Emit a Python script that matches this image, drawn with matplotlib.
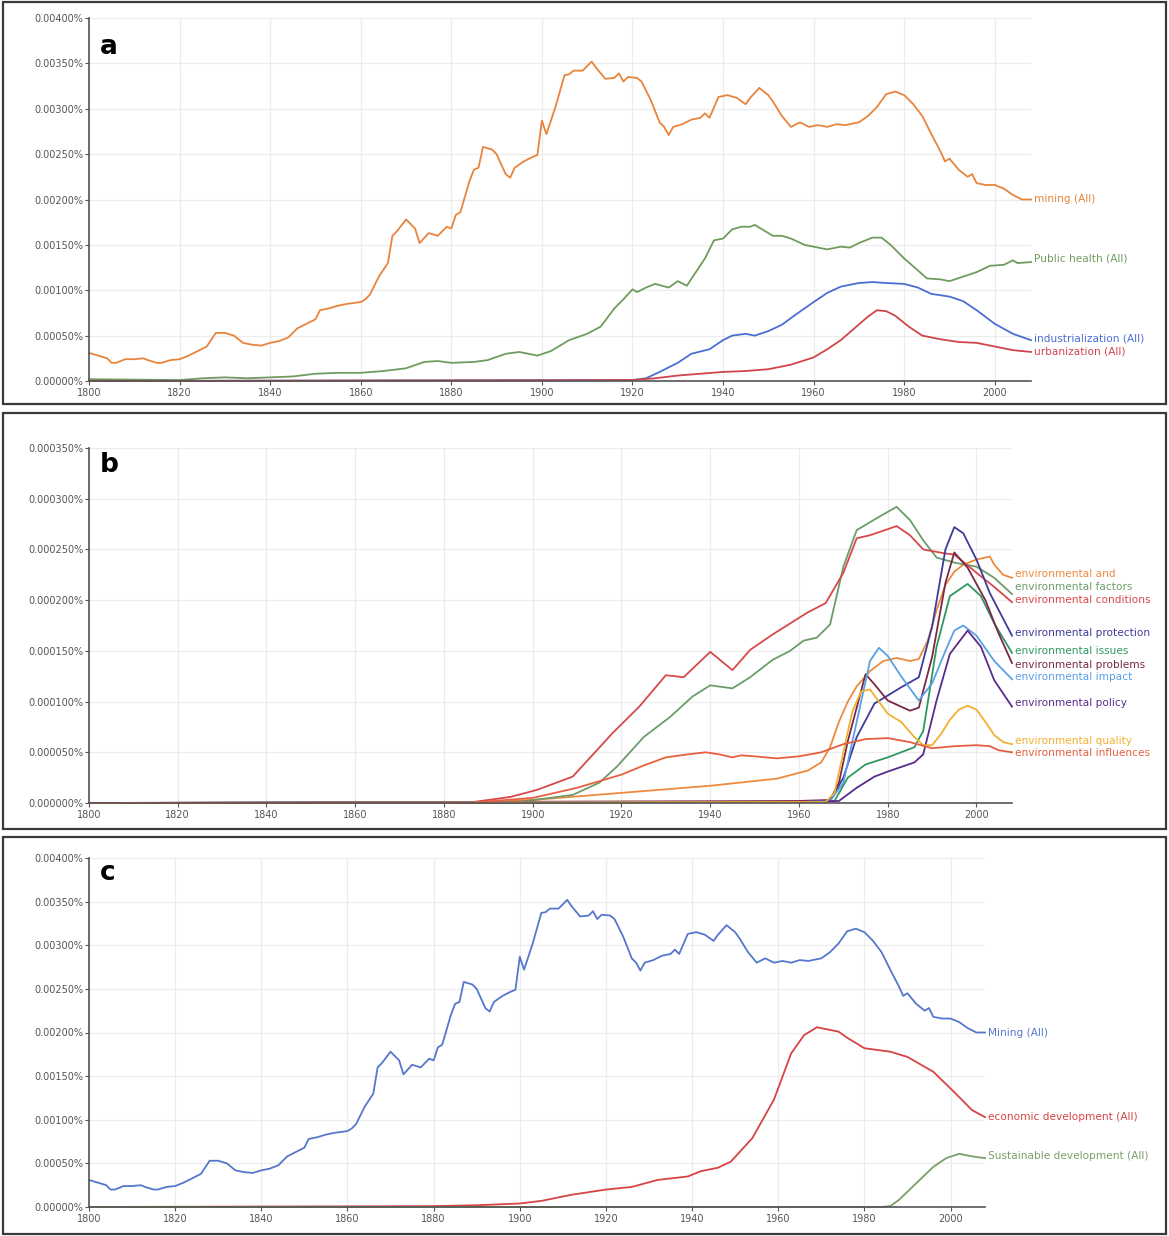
import matplotlib
matplotlib.use("Agg")
import matplotlib.pyplot as plt
import numpy as np
from matplotlib.patches import Rectangle
from matplotlib.ticker import FuncFormatter

# ---- data (values are in %) ----
mining_years = [1800, 1802, 1804, 1805, 1806, 1808, 1810, 1812, 1813, 1815, 1816, 1818, 1820, 1822, 1824, 1826,
                1828, 1830, 1832, 1834, 1836, 1838, 1840, 1842, 1844, 1846, 1848, 1850, 1851, 1853, 1855, 1857,
                1860, 1861, 1862, 1864, 1866, 1867, 1868, 1870, 1872, 1873, 1875, 1877, 1879, 1880, 1881, 1882,
                1884, 1885, 1886, 1887, 1889, 1890, 1892, 1893, 1894, 1896, 1898, 1899, 1900, 1901, 1903, 1905,
                1906, 1907, 1909, 1911, 1912, 1914, 1916, 1917, 1918, 1919, 1921, 1922, 1924, 1926, 1927, 1928,
                1929, 1931, 1933, 1935, 1936, 1937, 1939, 1941, 1943, 1945, 1946, 1948, 1950, 1951, 1953, 1955,
                1957, 1959, 1961, 1963, 1965, 1967, 1970, 1972, 1974, 1976, 1978, 1980, 1982, 1984, 1986, 1988,
                1989, 1990, 1992, 1994, 1995, 1996, 1998, 2000, 2002, 2004, 2006, 2008]
mining_vals = [0.00031, 0.00028, 0.00025, 0.00020, 0.00020, 0.00024, 0.00024, 0.00025, 0.00023, 0.00020, 0.00020,
               0.00023, 0.00024, 0.00028, 0.00033, 0.00038, 0.00053, 0.00053, 0.00050, 0.00042, 0.00040, 0.00039,
               0.00042, 0.00044, 0.00048, 0.00058, 0.00063, 0.00068, 0.00078, 0.00080, 0.00083, 0.00085, 0.00087,
               0.00090, 0.00095, 0.00115, 0.00130, 0.00160, 0.00165, 0.00178, 0.00168, 0.00152, 0.00163, 0.00160,
               0.00170, 0.00168, 0.00183, 0.00186, 0.00220, 0.00233, 0.00235, 0.00258, 0.00255, 0.00250, 0.00228,
               0.00224, 0.00235, 0.00242, 0.00247, 0.00249, 0.00287, 0.00272, 0.00302, 0.00337, 0.00338, 0.00342,
               0.00342, 0.00352, 0.00345, 0.00333, 0.00334, 0.00339, 0.00330, 0.00335, 0.00334, 0.00330, 0.00310,
               0.00285, 0.00280, 0.00271, 0.00280, 0.00283, 0.00288, 0.00290, 0.00295, 0.00290, 0.00313, 0.00315,
               0.00312, 0.00305, 0.00312, 0.00323, 0.00315, 0.00308, 0.00292, 0.00280, 0.00285, 0.00280, 0.00282,
               0.00280, 0.00283, 0.00282, 0.00285, 0.00292, 0.00302, 0.00316, 0.00319, 0.00315, 0.00305, 0.00292,
               0.00272, 0.00253, 0.00242, 0.00245, 0.00233, 0.00225, 0.00228, 0.00218, 0.00216, 0.00216, 0.00212,
               0.00205, 0.00200, 0.00200]

health_years = [1800, 1820, 1825, 1830, 1835, 1840, 1845, 1850, 1855, 1860, 1865, 1870, 1874, 1877, 1880, 1885,
                1888, 1892, 1895, 1899, 1902, 1906, 1910, 1913, 1916, 1918, 1920, 1921, 1923, 1925, 1928, 1930,
                1932, 1934, 1936, 1938, 1940, 1942, 1944, 1946, 1947, 1949, 1951, 1953, 1955, 1958, 1960, 1963,
                1966, 1968, 1970, 1973, 1975, 1977, 1980, 1983, 1985, 1988, 1990, 1993, 1996, 1999, 2002, 2004,
                2005, 2008]
health_vals = [0.00002, 0.00001, 0.00003, 0.00004, 0.00003, 0.00004, 0.00005, 0.00008, 0.00009, 0.00009, 0.00011,
               0.00014, 0.00021, 0.00022, 0.00020, 0.00021, 0.00023, 0.00030, 0.00032, 0.00028, 0.00033, 0.00045,
               0.00052, 0.00060, 0.00080, 0.00090, 0.00101, 0.00098, 0.00103, 0.00107, 0.00103, 0.00110, 0.00105,
               0.00120, 0.00135, 0.00155, 0.00157, 0.00167, 0.00170, 0.00170, 0.00172, 0.00166, 0.00160, 0.00160,
               0.00157, 0.00150, 0.00148, 0.00145, 0.00148, 0.00147, 0.00152, 0.00158, 0.00158, 0.00150, 0.00135,
               0.00122, 0.00113, 0.00112, 0.00110, 0.00115, 0.00120, 0.00127, 0.00128, 0.00133, 0.00130, 0.00131]

indus_years = [1800, 1920, 1923, 1926, 1930, 1933, 1937, 1940, 1942, 1945, 1947, 1950, 1953, 1956, 1960, 1963,
               1966, 1970, 1973, 1976, 1980, 1983, 1986, 1990, 1993, 1996, 2000, 2004, 2008]
indus_vals = [0.0, 0.00001, 0.00003, 0.00010, 0.00020, 0.00030, 0.00035, 0.00045, 0.00050, 0.00052, 0.00050,
              0.00055, 0.00062, 0.00073, 0.00087, 0.00097, 0.00104, 0.00108, 0.00109, 0.00108, 0.00107, 0.00103,
              0.00096, 0.00093, 0.00088, 0.00078, 0.00063, 0.00052, 0.00045]

urban_years = [1800, 1920, 1925, 1930, 1935, 1940, 1945, 1950, 1955, 1960, 1963, 1966, 1969, 1972, 1974, 1976,
               1978, 1981, 1984, 1988, 1992, 1996, 2000, 2004, 2008]
urban_vals = [0.0, 0.00001, 0.00003, 0.00006, 0.00008, 0.00010, 0.00011, 0.00013, 0.00018, 0.00026, 0.00035,
              0.00045, 0.00058, 0.00071, 0.00078, 0.00077, 0.00072, 0.00060, 0.00050, 0.00046, 0.00043, 0.00042,
              0.00038, 0.00034, 0.00032]

# panel b values in units of 0.000001 %
env_and_years = [1800, 1885, 1900, 1920, 1940, 1955, 1962, 1965, 1967, 1969, 1971, 1973, 1976, 1979, 1982, 1985,
                 1987, 1989, 1991, 1993, 1995, 1997, 2000, 2003, 2004, 2006, 2008]
env_and_vals = [0, 0, 3, 10, 17, 24, 32, 40, 55, 80, 100, 115, 130, 140, 143, 140, 142, 160, 190, 215, 228, 235,
                240, 243, 235, 225, 222]

env_factors_years = [1800, 1895, 1909, 1915, 1919, 1925, 1931, 1936, 1940, 1945, 1949, 1954, 1958, 1961, 1964,
                     1967, 1970, 1973, 1978, 1982, 1985, 1988, 1991, 1995, 2000, 2004, 2008]
env_factors_vals = [0, 0, 8, 20, 36, 65, 85, 105, 116, 113, 124, 141, 150, 160, 163, 176, 233, 269, 282, 292, 279,
                    259, 242, 237, 233, 222, 206]

env_cond_years = [1800, 1885, 1895, 1901, 1909, 1918, 1924, 1930, 1934, 1940, 1945, 1949, 1954, 1958, 1962, 1966,
                  1970, 1973, 1976, 1982, 1985, 1988, 1993, 1995, 2000, 2004, 2008]
env_cond_vals = [0, 0, 6, 13, 26, 69, 95, 126, 124, 149, 131, 151, 166, 177, 188, 197, 227, 261, 264, 273, 264,
                 250, 246, 245, 227, 213, 198]

env_prot_years = [1800, 1960, 1967, 1970, 1973, 1977, 1983, 1987, 1990, 1993, 1995, 1997, 2000, 2003, 2008]
env_prot_vals = [0, 1, 2, 25, 65, 98, 114, 124, 174, 250, 272, 266, 240, 207, 165]

env_issues_years = [1800, 1960, 1968, 1971, 1975, 1980, 1986, 1988, 1991, 1994, 1998, 2001, 2004, 2008]
env_issues_vals = [0, 1, 2, 25, 38, 45, 55, 71, 154, 204, 216, 204, 177, 148]

env_prob_years = [1800, 1960, 1967, 1969, 1971, 1975, 1977, 1980, 1985, 1987, 1990, 1993, 1995, 1998, 2002, 2005,
                  2008]
env_prob_vals = [0, 2, 3, 20, 61, 127, 117, 101, 91, 94, 144, 217, 247, 232, 200, 167, 138]

env_impact_years = [1800, 1960, 1967, 1970, 1973, 1976, 1978, 1980, 1983, 1987, 1990, 1993, 1995, 1997, 2000,
                    2004, 2008]
env_impact_vals = [0, 1, 2, 20, 80, 140, 153, 145, 125, 101, 118, 150, 170, 175, 165, 140, 122]

env_policy_years = [1800, 1960, 1969, 1973, 1977, 1980, 1986, 1988, 1991, 1994, 1998, 2001, 2004, 2008]
env_policy_vals = [0, 1, 2, 15, 26, 31, 40, 48, 101, 147, 170, 154, 121, 95]

env_quality_years = [1800, 1966, 1968, 1970, 1972, 1974, 1976, 1978, 1980, 1983, 1986, 1988, 1990, 1992, 1994,
                     1996, 1998, 2000, 2002, 2004, 2006, 2008]
env_quality_vals = [0, 1, 10, 50, 90, 110, 112, 100, 88, 80, 65, 57, 57, 68, 82, 92, 96, 92, 80, 67, 60, 58]

env_infl_years = [1800, 1885, 1900, 1910, 1920, 1925, 1930, 1935, 1939, 1942, 1945, 1947, 1950, 1955, 1960, 1965,
                  1970, 1975, 1980, 1985, 1990, 1995, 2000, 2003, 2005, 2008]
env_infl_vals = [0, 0, 5, 15, 28, 37, 45, 48, 50, 48, 45, 47, 46, 44, 46, 50, 58, 63, 64, 60, 54, 56, 57, 56, 52,
                 50]

econ_years = [1800, 1880, 1890, 1900, 1905, 1912, 1920, 1926, 1932, 1939, 1942, 1946, 1949, 1954, 1959, 1963,
              1966, 1969, 1974, 1976, 1980, 1986, 1990, 1996, 2001, 2005, 2008]
econ_vals = [0.0, 0.00001, 0.00002, 0.00004, 0.00007, 0.00014, 0.00020, 0.00023, 0.00031, 0.00035, 0.00041,
             0.00045, 0.00052, 0.00079, 0.00123, 0.00176, 0.00197, 0.00206, 0.00201, 0.00194, 0.00182, 0.00178,
             0.00172, 0.00155, 0.00131, 0.00111, 0.00103]

sust_years = [1800, 1984, 1986, 1988, 1992, 1996, 1999, 2002, 2005, 2008]
sust_vals = [0.0, 0.0, 0.00001, 0.00008, 0.00027, 0.00046, 0.00056, 0.00061, 0.00058, 0.00056]

a_series = [("mining (All)", mining_years, mining_vals, "#e8843c", 0.00200),
            ("Public health (All)", health_years, health_vals, "#6f9c5e", 0.00135),
            ("industrialization (All)", indus_years, indus_vals, "#4a6fd4", 0.00047),
            ("urbanization (All)", urban_years, urban_vals, "#d0454a", 0.00032)]

b_series = [("environmental and", env_and_years, env_and_vals, "#ee8a3e", 226),
            ("environmental factors", env_factors_years, env_factors_vals, "#6c9c6c", 213),
            ("environmental conditions", env_cond_years, env_cond_vals, "#d84848", 200),
            ("environmental protection", env_prot_years, env_prot_vals, "#3c3c9a", 168),
            ("environmental issues", env_issues_years, env_issues_vals, "#2f9860", 150),
            ("environmental problems", env_prob_years, env_prob_vals, "#7a2848", 136),
            ("environmental impact", env_impact_years, env_impact_vals, "#5aa0e6", 124),
            ("environmental policy", env_policy_years, env_policy_vals, "#5a2c8a", 99),
            ("environmental quality", env_quality_years, env_quality_vals, "#f0b032", 61),
            ("environmental influences", env_infl_years, env_infl_vals, "#e6603e", 49)]

c_series = [("Mining (All)", mining_years, mining_vals, "#5577cc", 0.00200),
            ("economic development (All)", econ_years, econ_vals, "#d64444", 0.00103),
            ("Sustainable development (All)", sust_years, sust_vals, "#7aa068", 0.00058)]

W, H = 1169, 1236
fig = plt.figure(figsize=(W / 100, H / 100), dpi=100)
fig.patch.set_facecolor("white")

# panel boxes (pixel coords from top)
for (top, bot) in [(2, 404), (413, 829), (837, 1234)]:
    fig.add_artist(Rectangle((3 / W, 1 - bot / H), (W - 6) / W, (bot - top) / H,
                             transform=fig.transFigure, fill=False, edgecolor="#3a3a3a", lw=1.6))


def make_axes(left, right, top, bottom):
    return fig.add_axes([left / W, 1 - bottom / H, (right - left) / W, (bottom - top) / H])


def style(ax, ymax, ystep, decimals):
    ax.set_xlim(1800, 2008)
    ax.set_ylim(0, ymax)
    ax.set_xticks(np.arange(1800, 2001, 20))
    ax.set_yticks(np.arange(0, ymax + ystep / 2, ystep))
    ax.yaxis.set_major_formatter(FuncFormatter(lambda v, p: f"{v:.{decimals}f}%"))
    ax.grid(True, color="#ececec", lw=0.9)
    ax.set_axisbelow(True)
    for s in ["top", "right"]:
        ax.spines[s].set_visible(False)
    for s in ["left", "bottom"]:
        ax.spines[s].set_color("#555555")
        ax.spines[s].set_linewidth(1.2)
    ax.tick_params(axis="both", labelsize=7, colors="#555555", length=3, width=0.8, pad=2)
    ax.tick_params(axis="y", pad=1)


def draw(ax, series, scale=1.0):
    for name, yrs, vals, col, ylab in series:
        ax.plot(yrs, np.array(vals) * scale, color=col, lw=1.3, clip_on=False)
        ax.text(2008.6, ylab * scale, name, color=col, fontsize=7.6, va="center", ha="left",
                clip_on=False)


ax_a = make_axes(89, 1031, 18, 381)
style(ax_a, 0.004, 0.0005, 5)
draw(ax_a, a_series)
ax_a.text(0.012, 0.955, "a", transform=ax_a.transAxes, fontsize=19, fontweight="bold", va="top")

ax_b = make_axes(89, 1012, 448, 803)
style(ax_b, 0.00035, 0.00005, 6)
draw(ax_b, b_series, scale=1e-6)
ax_b.text(0.012, 0.99, "b", transform=ax_b.transAxes, fontsize=19, fontweight="bold", va="top")

ax_c = make_axes(89, 985, 858, 1207)
style(ax_c, 0.004, 0.0005, 5)
draw(ax_c, c_series)
ax_c.text(0.012, 0.995, "c", transform=ax_c.transAxes, fontsize=19, fontweight="bold", va="top")

fig.savefig("out.png", dpi=100)
